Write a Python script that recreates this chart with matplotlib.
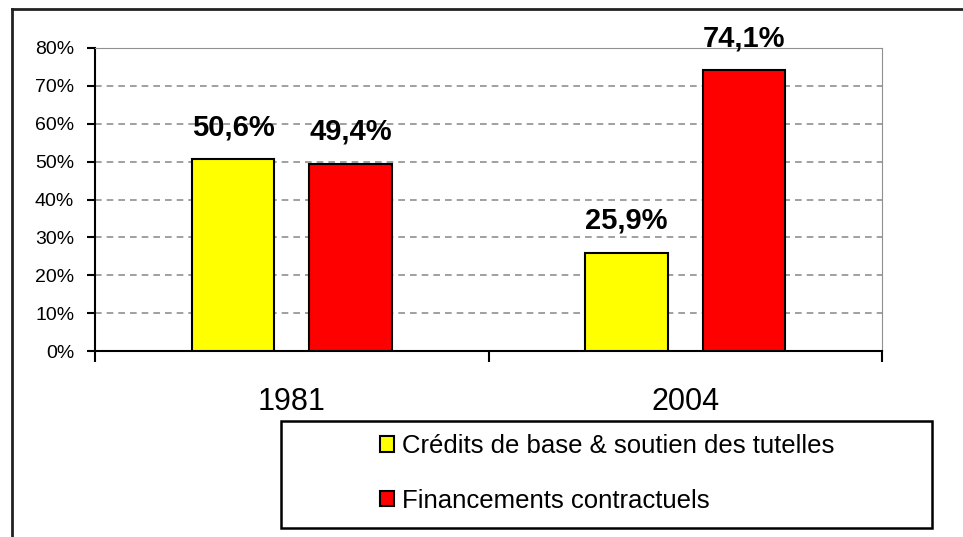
import numpy as np
import matplotlib.pyplot as plt
from matplotlib.patches import Rectangle
from matplotlib.lines import Line2D

plt.rcParams['font.family'] = ['Liberation Sans', 'DejaVu Sans']

years = ["1981", "2004"]
series = ["Crédits de base & soutien des tutelles", "Financements contractuels"]
credits = [50.6, 25.9]
contrats = [49.4, 74.1]
labels_credits = ["50,6%", "25,9%"]
labels_contrats = ["49,4%", "74,1%"]
colors = ["#ffff00", "#ff0000"]

fig = plt.figure(figsize=(9.63, 5.37), dpi=100)
ax = fig.add_axes([95/963, 1-351/537, 787/963, 303/537])

x = np.arange(len(years))
w = 0.209
off = 0.149
b1 = ax.bar(x - off, credits, w, color=colors[0], edgecolor="black", linewidth=1.5, zorder=3, label=series[0])
b2 = ax.bar(x + off, contrats, w, color=colors[1], edgecolor="black", linewidth=1.5, zorder=3, label=series[1])

for bars, labs in [(b1, labels_credits), (b2, labels_contrats)]:
    for r, t in zip(bars, labs):
        ax.annotate(t, (r.get_x() + r.get_width()/2, r.get_height()),
                    xytext=(0, 23), textcoords="offset points",
                    ha="center", va="center", fontsize=21, fontweight="bold",
                    annotation_clip=False)

ax.set_xlim(-0.5, 1.5)
ax.set_ylim(0, 80)
ax.set_yticks(np.arange(0, 81, 10))
ax.set_yticklabels([f"{v}%" for v in range(0, 81, 10)], fontsize=14)
ax.tick_params(axis="y", length=6, width=1.5, pad=9, direction="out")
ax.set_xticks(x)
ax.set_xticklabels(years, fontsize=22)
ax.set_xticks([-0.5, 0.5, 1.5], minor=True)
ax.tick_params(axis="x", which="major", length=0, pad=26)
ax.tick_params(axis="x", which="minor", length=8, width=1.5, direction="out")

for v in range(10, 80, 10):
    ax.axhline(v, color="#909090", linestyle=(0, (4, 3)), linewidth=1.2, zorder=1)

ax.spines["left"].set_linewidth(1.5)
ax.spines["bottom"].set_linewidth(1.5)
ax.spines["top"].set_color("#909090")
ax.spines["right"].set_color("#909090")

# cadre exterieur
fig.add_artist(Line2D([12/963, 1], [1-9/537, 1-9/537], color="#222222", linewidth=2))
fig.add_artist(Line2D([12/963, 12/963], [0, 1-9/537], color="#222222", linewidth=2))

# legende
fig.add_artist(Rectangle((281/963, 1-528/537), 651/963, 107/537, transform=fig.transFigure,
                         fill=False, edgecolor="black", linewidth=1.8))
fig.legend(handles=[b1, b2], loc="upper left", bbox_to_anchor=(380/963, 1-434/537),
           frameon=False, fontsize=18.5, handlelength=0.55, handleheight=0.55,
           handletextpad=0.3, labelspacing=1.2, borderpad=0, borderaxespad=0)

fig.savefig("out.png", dpi=100)
